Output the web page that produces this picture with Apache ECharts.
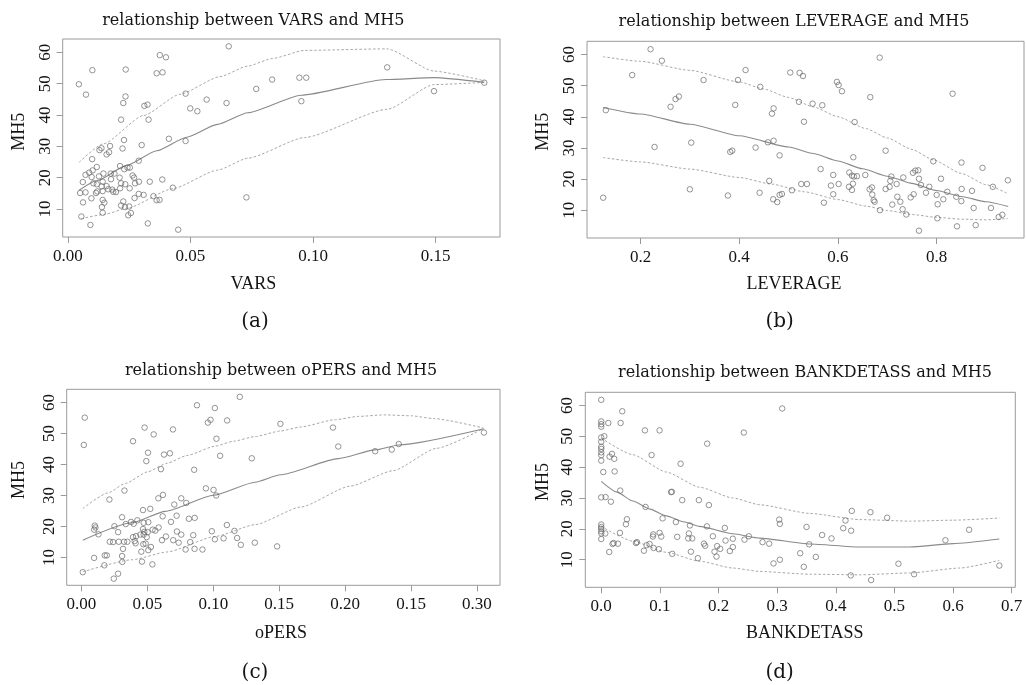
<!DOCTYPE html>
<html><head><meta charset="utf-8">
<script src="https://cdn.jsdelivr.net/npm/echarts@6/dist/echarts.min.js"></script>
<style>html,body{margin:0;padding:0;background:#fff}#c{width:1026px;height:685px}</style>
</head><body><div id="c"></div>
<script>
// ---------- data ----------
const yTicks = [10, 20, 30, 40, 50, 60];

// (a) VARS vs MH5
const ticksVARS = [0, 0.05, 0.10, 0.15];
const tickLabelsVARS = ['0.00', '0.05', '0.10', '0.15'];
const ptsVARS = [
[0.0375,59.1],[0.0400,58.4],[0.0100,54.3],[0.0236,54.5],[0.0045,49.8],[0.0362,53.3],[0.0386,53.6],[0.0074,46.5],[0.0235,45.9],[0.0226,43.8],[0.0480,46.8],[0.0566,44.9],[0.0499,42.1],[0.0528,41.2],[0.0312,42.9],[0.0325,43.3],[0.0217,38.5],[0.0329,38.5],[0.0412,32.4],[0.0480,31.7],[0.0229,32.0],[0.0301,30.4],[0.0223,29.3],[0.0129,28.8],[0.0137,29.4],[0.0172,30.1],[0.0158,27.4],[0.0168,28.1],[0.0099,25.9],[0.0289,25.4],[0.0213,23.7],[0.0230,22.7],[0.0243,23.2],[0.0253,23.2],
[0.0656,61.9],[0.0647,43.8],[0.0768,48.3],[0.0833,51.3],[0.0944,51.9],[0.0972,51.9],[0.0952,44.4],[0.1302,55.2],[0.1493,47.6],[0.1698,50.3],[0.0728,13.7],
[0.0118,23.4],[0.0101,22.3],[0.0087,21.6],[0.0072,20.9],[0.0145,21.3],[0.0175,21.3],[0.0190,21.3],[0.0127,20.4],[0.0097,20.2],[0.0264,20.7],[0.0270,20.0],[0.0061,18.6],[0.0104,18.2],[0.0118,17.9],[0.0142,18.7],[0.0176,19.5],[0.0211,20.0],[0.0138,17.2],[0.0158,17.3],[0.0217,18.2],[0.0234,17.9],[0.0290,18.7],[0.0334,18.7],[0.0385,19.4],[0.0274,18.2],
[0.0050,15.1],[0.0072,15.3],[0.0120,15.6],[0.0142,15.7],[0.0165,16.3],[0.0181,16.2],[0.0185,15.5],[0.0196,15.4],[0.0213,16.6],[0.0252,16.6],[0.0289,14.8],[0.0309,14.5],[0.0349,14.1],[0.0428,16.8],[0.0062,12.1],[0.0096,13.4],[0.0142,12.9],[0.0149,12.0],[0.0115,15.1],[0.0226,12.4],[0.0272,13.5],[0.0362,12.8],[0.0374,12.9],
[0.0139,10.6],[0.0217,11.1],[0.0233,10.6],[0.0250,10.8],[0.0142,8.8],[0.0257,8.7],[0.0246,8.0],[0.0055,7.6],[0.0092,4.9],[0.0326,5.4],[0.0450,3.4]
];
const fitVARS = [[0.0046,16.0],[0.012,19.1],[0.024,23.9],[0.0363,28.6],[0.0485,32.9],[0.061,37.0],[0.0734,40.7],[0.0951,46.3],[0.1297,51.3],[0.1493,51.9],[0.1698,50.4]];
const upperVARS = [[0.0046,24.9],[0.0145,30.8],[0.0308,39.8],[0.0457,46.6],[0.0619,52.2],[0.0734,55.6],[0.0833,58.0],[0.0965,60.6],[0.1302,61.1],[0.1493,54.0],[0.1698,50.9]];
const lowerVARS = [[0.0055,6.9],[0.015,8.3],[0.024,10.2],[0.0429,16.5],[0.061,22.4],[0.0734,26.2],[0.0965,32.8],[0.1302,41.8],[0.1493,49.7],[0.1698,50.4]];

// (b) LEVERAGE vs MH5
const ticksLEV = [0.2, 0.4, 0.6, 0.8];
const tickLabelsLEV = ['0.2', '0.4', '0.6', '0.8'];
const ptsLEV = [
[0.2203,61.7],[0.2432,58.0],[0.1831,53.4],[0.3277,51.8],[0.3973,51.8],[0.4128,55.0],[0.4426,49.6],[0.5034,54.2],[0.5223,54.1],[0.5291,53.1],[0.5209,44.8],[0.1297,42.1],[0.2608,43.2],[0.2709,45.7],[0.2777,46.5],[0.3919,43.8],[0.4696,42.7],[0.4662,41.0],[0.5311,38.4],[0.2284,30.3],[0.3027,31.7],[0.3818,28.7],[0.3858,29.1],[0.4331,30.1],[0.4581,31.8],[0.4696,32.3],[0.4818,27.6],[0.1243,14.0],[0.3000,16.7],[0.3770,14.7],[0.4412,15.6],[0.4608,19.4],[0.4689,13.5],[0.4770,12.6],[0.4818,14.9],[0.4865,15.2],[0.5068,16.4],[0.5257,18.4],
[0.6845,59.0],[0.5980,51.2],[0.6014,50.2],[0.6081,48.2],[0.6655,46.3],[0.5486,44.2],[0.5682,43.7],[0.6338,38.3],[0.8324,47.4],[0.6966,29.1],[0.6311,27.0],[0.7932,25.7],[0.8503,25.3],[0.8929,23.6],[0.9443,19.6],[0.9139,17.5],[0.5649,23.2],[0.5905,21.3],[0.5372,18.4],[0.5716,12.4],[0.5858,17.9],[0.5905,15.1],[0.6014,18.4],[0.6230,22.1],[0.6284,21.1],[0.6324,20.8],[0.6385,20.9],[0.6223,17.5],[0.6284,16.5],[0.6304,18.5],[0.6554,21.3],[0.6642,16.7],[0.6689,17.3],[0.6696,15.0],[0.6723,13.2],[0.6743,12.7],[0.6851,10.0],[0.6966,16.8],[0.7047,17.5],[0.7061,19.4],[0.7081,20.8],[0.7101,11.8],[0.7189,18.4],[0.7203,14.3],[0.7264,12.7],[0.7311,10.3],[0.7385,8.6],[0.7324,20.5],[0.7473,14.1],[0.7534,15.1],[0.7520,22.0],[0.7568,22.7],[0.7628,22.8],[0.7642,20.1],[0.7682,18.1],[0.7642,3.4],[0.7784,15.6],[0.7851,17.5],[0.8000,14.9],[0.8020,11.9],[0.8014,7.4],[0.8088,20.1],[0.8135,13.5],[0.8216,15.9],[0.8399,14.3],[0.8412,4.8],[0.8500,12.9],[0.8507,16.8],[0.8716,16.2],[0.8750,10.7],[0.8791,5.2],[0.9101,10.7],[0.9257,7.8],[0.9331,8.5]
];
const fitLEV = [[0.124,43.0],[0.2,40.9],[0.3,37.6],[0.4,33.9],[0.5,30.3],[0.55,28.2],[0.6,25.8],[0.65,23.3],[0.7,20.9],[0.75,18.6],[0.8,16.3],[0.85,14.4],[0.9,12.7],[0.945,11.2]];
const upperLEV = [[0.124,59.3],[0.2,57.8],[0.3,54.9],[0.4,51.2],[0.45,48.9],[0.5,46.2],[0.55,43.2],[0.6,40.0],[0.657,36.2],[0.7,33.2],[0.75,29.5],[0.793,26.2],[0.85,21.8],[0.9,18.2],[0.944,15.3]];
const lowerLEV = [[0.124,26.9],[0.2,25.5],[0.3,23.2],[0.4,20.5],[0.465,18.4],[0.532,15.9],[0.6,13.4],[0.657,11.3],[0.7,9.9],[0.75,8.6],[0.8,7.7],[0.85,7.1],[0.9,6.9],[0.944,7.3]];

// (c) oPERS vs MH5
const ticksOPERS = [0, 0.05, 0.10, 0.15, 0.20, 0.25, 0.30];
const tickLabelsOPERS = ['0.00', '0.05', '0.10', '0.15', '0.20', '0.15', '0.30'];
const ptsOPERS = [
[0.1201,61.8],[0.0876,59.1],[0.1012,58.2],[0.0025,55.1],[0.0979,54.4],[0.0959,53.5],[0.1105,54.2],[0.0479,51.9],[0.0694,51.3],[0.0548,49.7],[0.0391,47.5],[0.0018,46.3],[0.1024,48.3],[0.0505,43.8],[0.0626,43.2],[0.0671,43.6],[0.0492,41.1],[0.1052,42.8],[0.1292,42.0],[0.0603,38.5],[0.0855,38.3],[0.0326,31.6],[0.0212,28.7],[0.0583,29.1],[0.0618,30.2],[0.0944,32.3],[0.1002,31.8],[0.1022,30.0],[0.0704,27.1],[0.0757,29.1],[0.0795,27.6],[0.0467,25.3],[0.0522,25.7],[0.0308,23.0],[0.0616,23.3],[0.0722,23.5],[0.0250,20.1],[0.0101,20.3],[0.0106,19.7],[0.0096,19.0],[0.0129,17.5],[0.0336,20.8],[0.0376,21.5],[0.0396,20.9],[0.0424,22.0],[0.0472,21.2],[0.0507,21.4],[0.0278,18.2],[0.0215,15.1],[0.0240,15.0],[0.0283,15.1],[0.0323,15.1],[0.0348,15.1],[0.0391,16.6],[0.0414,16.9],[0.0447,17.4],[0.0472,17.4],[0.0495,16.6],[0.0467,19.2],[0.0477,18.3],[0.0502,18.2],[0.0540,19.0],[0.0404,15.3],[0.0411,14.6],[0.0469,14.3],[0.0487,14.5],[0.0507,12.4],[0.0454,11.9],[0.0527,13.4],[0.0315,12.8],[0.0308,10.5],[0.0310,8.6],[0.0459,8.7],[0.0538,7.8],[0.0174,7.5],[0.0096,9.9],[0.0177,10.7],[0.0192,10.7],[0.0010,5.3],[0.0278,4.8],[0.0245,3.2],[0.0560,18.7],[0.0585,19.7],[0.0611,15.6],[0.0641,16.8],[0.0679,21.5],[0.0696,15.6],[0.0737,14.8],[0.0724,18.4],[0.0757,17.4],[0.0790,12.6],[0.0815,22.5],[0.0859,22.8],[0.0825,15.0],[0.0848,17.2],[0.0858,12.8],[0.0918,12.6],[0.0989,18.5],[0.1012,15.9],[0.1078,16.2],[0.1103,20.5],[0.1161,18.6],[0.1181,16.3],[0.1209,14.1],[0.1315,14.8],
[0.1509,53.1],[0.1908,51.9],[0.1948,45.8],[0.2228,44.3],[0.2354,44.8],[0.2407,46.6],[0.3053,50.3],[0.1484,13.6]
];
const fitOPERS = [[0.001,15.6],[0.0384,21.2],[0.0636,24.9],[0.1002,30.1],[0.1317,34.3],[0.1509,36.7],[0.1948,41.9],[0.2228,44.7],[0.2407,46.3],[0.3053,51.5]];
const upperOPERS = [[0.001,25.8],[0.02,30.8],[0.0333,33.9],[0.05,37.6],[0.0649,40.4],[0.08,42.9],[0.1014,45.9],[0.1154,47.5],[0.1317,49.0],[0.1509,50.8],[0.1665,52.1],[0.1918,54.4],[0.21,55.5],[0.2296,56.0],[0.25,55.7],[0.2674,54.8],[0.3045,51.8]];
const lowerOPERS = [[0.001,5.4],[0.0384,9.3],[0.0649,11.8],[0.1014,16.8],[0.1317,20.6],[0.1665,26.3],[0.2036,33.0],[0.2364,38.0],[0.2692,45.2],[0.3045,51.5]];

// (d) BANKDETASS vs MH5
const ticksBANK = [0, 0.1, 0.2, 0.3, 0.4, 0.5, 0.6, 0.7];
const tickLabelsBANK = ['0.0', '0.1', '0.2', '0.3', '0.4', '0.5', '0.6', '0.7'];
const ptsBANK = [
[0,61.8],[0,54.8],[0,53.9],[0,53.1],[0,49.6],[0,48.2],[0,46.6],[0,45.9],[0,44.8],[0,43.9],[0,42.1],[0,30.2],[0,21.4],[0,20.6],[0,20.0],[0,19.2],[0,18.5],[0,16.7],
[0.0120,54.3],[0.0052,50.0],[0.0035,38.4],[0.0074,30.3],[0.0165,28.8],[0.0143,43.4],[0.0183,44.3],[0.0222,42.7],[0.0228,38.6],[0.0330,54.3],[0.0358,58.1],[0.0069,18.5],[0.0193,15.1],[0.0211,15.4],[0.0285,15.2],[0.0137,12.5],[0.0319,18.7],[0.0324,32.4],[0.0421,21.5],[0.0438,23.1],[0.0592,15.4],[0.0609,15.7],[0.0728,12.9],[0.0773,14.7],[0.0824,15.1],[0.0887,18.2],[0.0881,17.5],[0.0893,13.8],[0.0983,13.4],[0.0995,18.7],[0.1023,17.5],[0.0745,51.9],[0.0995,51.9],[0.0859,43.9],[0.1046,23.4],[0.1211,11.9],[0.1190,31.9],[0.1205,32.0],[0.0756,27.1],[0.1273,22.2],[0.1296,17.4],[0.1353,41.1],[0.1381,29.3],[0.1512,21.1],[0.1495,18.5],[0.1484,16.9],[0.1552,16.9],[0.1529,12.6],[0.1648,10.5],[0.1665,29.3],[0.1807,47.6],[0.1836,27.7],[0.1802,20.8],[0.1904,17.6],[0.1751,15.2],[0.1773,14.5],[0.1932,12.6],[0.1977,14.4],[0.1966,11.0],[0.2029,13.5],[0.2120,16.2],[0.2108,20.3],[0.2193,12.8],[0.2244,14.1],[0.2244,16.8],[0.2443,16.5],[0.2517,17.6],[0.2432,51.2],
[0.3086,59.0],[0.3035,23.0],[0.3046,21.6],[0.2751,15.7],[0.2864,15.2],[0.3501,20.6],[0.3546,15.0],[0.3767,18.0],[0.3927,16.9],[0.3393,12.1],[0.3660,10.9],[0.2938,8.8],[0.3046,10.0],[0.3455,7.7],[0.4127,20.2],[0.4166,22.7],[0.4262,19.4],[0.4273,25.8],[0.4591,25.4],[0.4876,23.6],[0.4256,4.9],[0.4603,3.4],[0.5069,8.7],[0.5336,5.3],[0.5870,16.3],[0.6274,19.7],[0.6790,8.1]
];
const fitBANK = [[0,35.4],[0.027,31.9],[0.054,29.0],[0.083,26.4],[0.111,24.2],[0.14,22.3],[0.1676,20.8],[0.2244,18.4],[0.2705,17.0],[0.3557,15.1],[0.4409,14.1],[0.5261,14.1],[0.60,15.2],[0.679,16.7]];
const upperBANK = [[0,49.4],[0.054,44.0],[0.111,38.4],[0.1676,33.5],[0.2244,30.0],[0.2705,27.8],[0.3557,25.0],[0.4409,23.0],[0.5261,22.5],[0.60,22.8],[0.679,23.5]];
const lowerBANK = [[0,20.8],[0.054,16.0],[0.111,12.4],[0.1676,9.5],[0.2244,7.3],[0.2705,6.2],[0.3557,5.3],[0.4409,5.1],[0.5261,5.7],[0.612,7.3],[0.679,9.8]];

// ---------- layout ----------
const panels = [
  {pts: ptsVARS, fit: fitVARS, up: upperVARS, lo: lowerVARS, ticks: ticksVARS, labels: tickLabelsVARS,
   xMin: -0.0021, xMax: 0.1762, grid: {left: 62.7, top: 39, width: 437.3, height: 198},
   title: 'relationship between VARS and MH5', xName: 'VARS', cap: '(a)',
   tPos: [253.3, 20.7], xnPos: [253.3, 284.3], ynPos: [19, 131.7], capPos: [255, 321.7]},
  {pts: ptsLEV, fit: fitLEV, up: upperLEV, lo: lowerLEV, ticks: ticksLEV, labels: tickLabelsLEV,
   xMin: 0.0915, xMax: 0.977, grid: {left: 587, top: 41.3, width: 437, height: 196.7},
   title: 'relationship between LEVERAGE and MH5', xName: 'LEVERAGE', cap: '(b)',
   tPos: [794, 21.7], xnPos: [794, 284], ynPos: [543, 131.7], capPos: [779.7, 321.7]},
  {pts: ptsOPERS, fit: fitOPERS, up: upperOPERS, lo: lowerOPERS, ticks: ticksOPERS, labels: tickLabelsOPERS,
   xMin: -0.0112, xMax: 0.3175, grid: {left: 66.7, top: 389.3, width: 433.3, height: 196},
   title: 'relationship between oPERS and MH5', xName: 'oPERS', cap: '(c)',
   tPos: [281, 370.7], xnPos: [281, 633.3], ynPos: [19, 480], capPos: [255, 673]},
  {pts: ptsBANK, fit: fitBANK, up: upperBANK, lo: lowerBANK, ticks: ticksBANK, labels: tickLabelsBANK,
   xMin: -0.0272, xMax: 0.7062, grid: {left: 585.3, top: 392.3, width: 430, height: 195},
   title: 'relationship between BANKDETASS and MH5', xName: 'BANKDETASS', cap: '(d)',
   tPos: [805, 373.3], xnPos: [804.7, 633.3], ynPos: [543, 482], capPos: [779.7, 673]}
];

const TXT = '#141414';
const BOX = '#9a9a9a';
const tickFont = '"Liberation Serif", serif';

const grids = [], xAxes = [], yAxes = [], series = [], graphics = [];
function txt(t, pos, font, rot) {
  return {type: 'text', x: pos[0], y: pos[1], rotation: rot || 0, silent: true,
    style: {text: t, font: font, fill: TXT, align: 'center', verticalAlign: 'middle',
            textAlign: 'center', textVerticalAlign: 'middle'}};
}
panels.forEach((p, i) => {
  grids.push(Object.assign({show: true, borderColor: BOX, borderWidth: 1, backgroundColor: 'transparent'}, p.grid));
  xAxes.push({type: 'value', gridIndex: i, min: p.xMin, max: p.xMax,
    axisLine: {show: false, onZero: false}, splitLine: {show: false},
    axisTick: {show: true, inside: false, length: 6, lineStyle: {color: BOX}, customValues: p.ticks},
    axisLabel: {customValues: p.ticks, margin: 11, color: TXT, fontFamily: tickFont, fontSize: 17,
      formatter: function (v) {
        let best = 0, d = Infinity;
        p.ticks.forEach((t, k) => { const dd = Math.abs(t - v); if (dd < d) { d = dd; best = k; } });
        return p.labels[best];
      }}});
  yAxes.push({type: 'value', gridIndex: i, min: 1.06, max: 64.24,
    axisLine: {show: false, onZero: false}, splitLine: {show: false},
    axisTick: {show: true, inside: false, length: 6, lineStyle: {color: BOX}, customValues: yTicks},
    axisLabel: {customValues: yTicks, rotate: 90, margin: 9, color: TXT, fontFamily: tickFont, fontSize: 17}});
  const lineBase = {type: 'line', xAxisIndex: i, yAxisIndex: i, symbol: 'none', silent: true,
    smooth: 0.2, smoothMonotone: 'x', animation: false, z: 2};
  series.push(Object.assign({}, lineBase, {data: p.up, lineStyle: {color: '#a8a8a8', width: 1, type: [2.5, 2]}}));
  series.push(Object.assign({}, lineBase, {data: p.lo, lineStyle: {color: '#a8a8a8', width: 1, type: [2.5, 2]}}));
  series.push(Object.assign({}, lineBase, {data: p.fit, lineStyle: {color: '#8a8a8a', width: 1.1}}));
  series.push({type: 'scatter', xAxisIndex: i, yAxisIndex: i, data: p.pts, symbol: 'circle', symbolSize: 5.5,
    silent: true, animation: false, z: 3,
    itemStyle: {color: 'rgba(0,0,0,0)', borderColor: '#6a6a6a', borderWidth: 0.9}});
  graphics.push(txt(p.title, p.tPos, '16px "DejaVu Serif"'));
  graphics.push(txt(p.xName, p.xnPos, '18px "Liberation Serif"'));
  graphics.push(txt('MH5', p.ynPos, '18px "Liberation Serif"', Math.PI / 2));
  graphics.push(txt(p.cap, p.capPos, '20px "DejaVu Serif"'));
});

const chart = echarts.init(document.getElementById('c'), null, {renderer: 'canvas'});
chart.setOption({
  backgroundColor: '#fff', animation: false,
  grid: grids, xAxis: xAxes, yAxis: yAxes, series: series, graphic: graphics
});
</script></body></html>
